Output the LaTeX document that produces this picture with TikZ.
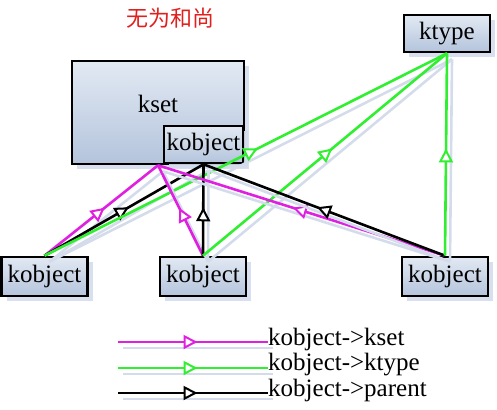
\documentclass[tikz,border=0pt]{standalone}
\usepackage{fontspec}
\setmainfont{Liberation Serif}
\newfontfamily\cjkfont{Noto Sans CJK SC}
\usetikzlibrary{arrows.meta,decorations.markings,shadows}
\definecolor{kmag}{HTML}{E020E0}
\definecolor{kgrn}{HTML}{30EE30}
\definecolor{kred}{HTML}{E0201E}
\definecolor{kshd}{HTML}{D4DCEC}
\definecolor{ktop}{HTML}{E2E9F3}
\definecolor{kbot}{HTML}{B4C4DC}
\begin{document}
\begin{tikzpicture}[x=1pt,y=-1pt,font=\rmfamily\fontsize{25}{27}\selectfont,
kbox/.style={draw,line width=2.6pt,top color=ktop,bottom color=kbot,inner sep=0pt,
  drop shadow={shadow xshift=5pt,shadow yshift=-5pt,fill=kshd,opacity=.9}},
rel/.style={draw=#1,line width=2.6pt,
  preaction={draw=kshd,line width=2.6pt,transform canvas={shift={(5pt,-6pt)}}},
  postaction={decorate,decoration={markings,mark=at position .53 with
    {\arrow[#1]{Triangle[length=14pt,width=14pt,fill=white,line width=2pt]}}}}}]
\useasboundingbox (0,0) rectangle (497,409);
\node[text=kred,font=\cjkfont\fontsize{22}{24}\selectfont] (title) at (170,18) {无为和尚};
\node[kbox,minimum width=172pt,minimum height=103pt,label={[yshift=9pt]center:kset}] (kset) at (158,112.5) {};
\node[kbox,minimum width=79pt,minimum height=37pt] (kin) at (203.5,144.5) {kobject};
\node[kbox,minimum width=86pt,minimum height=37pt] (ktype) at (447,33.5) {ktype};
\foreach \n/\x in {ka/44.5,kb/203,kc/445}
  \node[kbox,minimum width=86pt,minimum height=39pt] (\n) at (\x,276.5) {kobject};
% relations
\foreach \n in {ka,kb,kc}{
\draw[rel=kmag] (\n.north)--(kset.south);
\draw[rel=black] (\n.north)--(kin.south);
\draw[rel=kgrn] (\n.north)--(ktype.south);}
% legend
\foreach \c/\w/\y in {kmag/kset/342,kgrn/ktype/368,black/parent/393}{
\coordinate (l\w) at (118,\y);
\node[anchor=west,inner sep=0pt] (t\w) at (268,\y-3) {kobject->\w};
\draw[rel=\c] (l\w)--(l\w -| t\w.west);}
\end{tikzpicture}
\end{document}
